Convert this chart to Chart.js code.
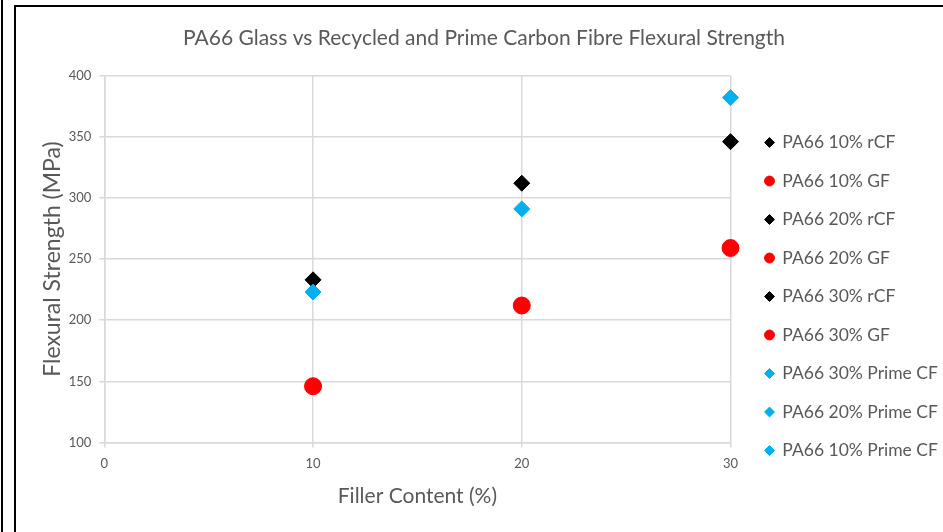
<!DOCTYPE html>
<html>
<head>
<meta charset="utf-8">
<script src="https://cdn.jsdelivr.net/npm/chart.js@4/dist/chart.umd.min.js"></script>
<style>
  html, body { margin: 0; padding: 0; background: #ffffff; }
  #page { position: relative; width: 943px; height: 532px; overflow: hidden; background: #ffffff; }
  #edge { position: absolute; left: 1px; top: 0; width: 2px; height: 532px; background: #000000; }
  #frame { position: absolute; left: 14px; top: 5px; width: 940px; height: 540px;
           border-left: 2px solid #000000; border-top: 2px solid #000000; }
  #chart { position: absolute; left: 16px; top: 7px; }
</style>
</head>
<body>
<div id="page">
  <div id="edge"></div>
  <div id="frame"></div>
  <canvas id="chart" width="927" height="525"></canvas>
</div>
<script>
// Filler loadings (%) and measured flexural strength (MPa)
const fillerContent = [10, 20, 30];
const recycledCF = [233, 312, 346];
const glassFibre = [146, 212, 259];
const primeCF = [223, 291, 382];

const textGrey = '#595959';
const gridGrey = '#d9d9d9';
const fontFamily = 'Lato, "Open Sans", sans-serif';

const rcfStyle = { color: '#000000', pointStyle: 'rectRot', radius: 8 };
const gfStyle = { color: '#ff0000', pointStyle: 'circle', radius: 8.5 };
const primeStyle = { color: '#00b0f0', pointStyle: 'rectRot', radius: 8 };

function series(label, x, y, style) {
  return {
    label: label,
    data: [{ x: x, y: y }],
    pointStyle: style.pointStyle,
    pointRadius: style.radius,
    pointHoverRadius: style.radius,
    backgroundColor: style.color,
    borderColor: style.color,
    pointBorderWidth: 1,
    showLine: false,
    clip: false
  };
}

const datasets = [
  series('PA66 10% rCF', fillerContent[0], recycledCF[0], rcfStyle),
  series('PA66 10% GF', fillerContent[0], glassFibre[0], gfStyle),
  series('PA66 20% rCF', fillerContent[1], recycledCF[1], rcfStyle),
  series('PA66 20% GF', fillerContent[1], glassFibre[1], gfStyle),
  series('PA66 30% rCF', fillerContent[2], recycledCF[2], rcfStyle),
  series('PA66 30% GF', fillerContent[2], glassFibre[2], gfStyle),
  series('PA66 30% Prime CF', fillerContent[2], primeCF[2], primeStyle),
  series('PA66 20% Prime CF', fillerContent[1], primeCF[1], primeStyle),
  series('PA66 10% Prime CF', fillerContent[0], primeCF[0], primeStyle)
];
// later series are painted over earlier ones
datasets.forEach((d, i) => { d.order = datasets.length - 1 - i; });

new Chart(document.getElementById('chart'), {
  type: 'scatter',
  data: { datasets: datasets },
  options: {
    responsive: false,
    animation: false,
    events: [],
    layout: { padding: { left: 9, right: 0, top: 0, bottom: 0 } },
    plugins: {
      tooltip: { enabled: false },
      title: {
        display: true,
        text: 'PA66 Glass vs Recycled and Prime Carbon Fibre Flexural Strength',
        color: textGrey,
        font: { family: fontFamily, size: 21, weight: 'normal', lineHeight: 1.2 },
        padding: { top: 18.4, bottom: 25 }
      },
      legend: {
        position: 'right',
        align: 'center',
        maxWidth: 198.5,
        // empty heading keeps the key list lower in its column
        title: { display: true, text: ' ', font: { size: 1, lineHeight: 1 }, padding: { top: 53, bottom: 0 } },
        labels: {
          usePointStyle: true,
          boxWidth: 8,
          boxHeight: 7,
          padding: 21,
          color: textGrey,
          font: { family: fontFamily, size: 17.5 },
          sort: (a, b) => a.datasetIndex - b.datasetIndex
        }
      }
    },
    scales: {
      x: {
        type: 'linear',
        position: 'bottom',
        min: 0,
        max: 30,
        ticks: { stepSize: 10, color: textGrey, padding: 9, font: { family: fontFamily, size: 13 } },
        grid: { color: gridGrey, lineWidth: 1.5, tickLength: 5, drawTicks: true },
        border: { color: gridGrey, width: 1.5 },
        title: {
          display: true,
          text: 'Filler Content (%)',
          color: textGrey,
          font: { family: fontFamily, size: 21, lineHeight: 1.2 },
          padding: { top: 0, bottom: 23 }
        },
        afterFit: (s) => { s.height = 89.5; }
      },
      y: {
        type: 'linear',
        position: 'left',
        min: 100,
        max: 400,
        ticks: { stepSize: 50, color: textGrey, padding: 8, font: { family: fontFamily, size: 13 } },
        grid: { color: gridGrey, lineWidth: 1.5, tickLength: 5, drawTicks: true },
        border: { color: gridGrey, width: 1.5 },
        title: {
          display: true,
          text: 'Flexural Strength (MPa)',
          color: textGrey,
          font: { family: fontFamily, size: 23, lineHeight: 1.2 },
          padding: { top: 14, bottom: 0 }
        },
        afterFit: (s) => { s.width = 79.3; }
      },
      gap: {
        type: 'linear',
        position: 'right',
        display: true,
        grid: { display: false },
        border: { display: false },
        ticks: { display: false },
        afterFit: (s) => { s.width = 14; }
      }
    }
  }
});
</script>
</body>
</html>
